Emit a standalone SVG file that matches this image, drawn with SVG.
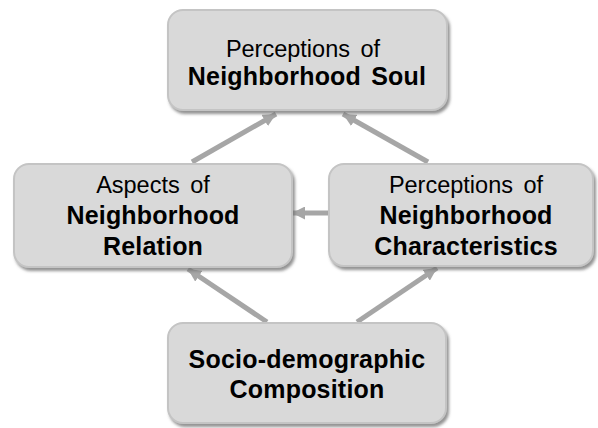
<svg xmlns="http://www.w3.org/2000/svg" width="598" height="428" viewBox="0 0 598 428">
  <style>
    .box { fill: #d9d9d9; stroke: #c4c4c4; stroke-width: 2; filter: url(#shadow); }
    .t { font-family: "Liberation Sans", Arial, sans-serif; font-size: 23.5px; fill: #000; text-anchor: middle; word-spacing: 4px; }
    .b { font-weight: bold; font-size: 25px; letter-spacing: 0.2px; word-spacing: 3px; }
    .conn { stroke: #a6a6a6; stroke-width: 5; fill: none; marker-end: url(#arr); }
  </style>
  <defs>
    <filter id="shadow" x="-10%" y="-10%" width="125%" height="130%">
      <feDropShadow dx="2" dy="3" stdDeviation="1.6" flood-color="#6e6e6e" flood-opacity="0.75"/>
    </filter>
    <marker id="arr" viewBox="0 0 10 10" refX="10" refY="5" markerUnits="userSpaceOnUse" markerWidth="13" markerHeight="13" orient="auto">
      <path d="M0,0 L10,5 L0,10 z" fill="#a6a6a6"/>
    </marker>
  </defs>
  <rect width="598" height="428" fill="#ffffff"/>
  <g id="connectors">
    <line class="conn" x1="192" y1="162" x2="276" y2="114"/>
    <line class="conn" x1="428" y1="162" x2="343" y2="114"/>
    <line class="conn" x1="328" y1="213" x2="292" y2="213"/>
    <line class="conn" x1="267" y1="322" x2="188" y2="269"/>
    <line class="conn" x1="357" y1="322" x2="437" y2="268"/>
  </g>
  <g id="node-soul">
    <rect class="box" x="168" y="10" width="279" height="100" rx="15"/>
    <text class="t" x="303" y="57">Perceptions of</text>
    <text class="t b" x="307" y="85">Neighborhood Soul</text>
  </g>
  <g id="node-relation">
    <rect class="box" x="14" y="164" width="278" height="103" rx="15"/>
    <text class="t" x="153" y="193">Aspects of</text>
    <text class="t b" x="153" y="224">Neighborhood</text>
    <text class="t b" x="153" y="255">Relation</text>
  </g>
  <g id="node-characteristics">
    <rect class="box" x="329" y="164" width="264" height="102" rx="15"/>
    <text class="t" x="466" y="193">Perceptions of</text>
    <text class="t b" x="466" y="224">Neighborhood</text>
    <text class="t b" x="466" y="255">Characteristics</text>
  </g>
  <g id="node-socio">
    <rect class="box" x="168" y="323" width="278" height="100" rx="15"/>
    <text class="t b" x="307" y="368">Socio-demographic</text>
    <text class="t b" x="307" y="398">Composition</text>
  </g>
</svg>
